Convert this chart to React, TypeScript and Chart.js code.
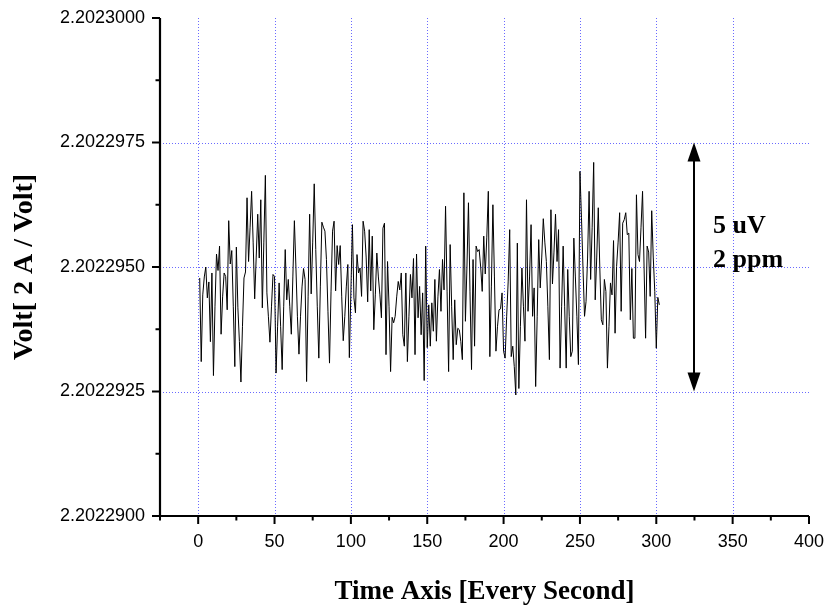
import React, { useEffect, useRef } from "react";
import { Chart, registerables } from "chart.js";

Chart.register(...registerables);

// ---------- DATA ----------
// Voltage readings, expressed as offsets above 2.2022900 V in units of 0.1 µV (1e-7 V)
const BASE_VOLT = 2.20229;
const OFFSET_UNIT = 1e-7;
const voltOffsets: number[] = [
  47.8, 31, 44.4, 48, 50, 43.8, 47, 35, 48.8, 28.2,
  42, 52.6, 49.3, 54.2, 36.5, 44, 48.8, 48.1, 41.4, 59.3,
  50.6, 53.3, 42, 30, 54, 41.8, 35, 26.9, 38, 47.8,
  49, 63.9, 51.1, 58, 65.2, 55, 43.6, 52, 60.6, 51.8,
  63.5, 41.8, 55, 68.4, 44.8, 40, 34.9, 42, 48.5, 48.1,
  28.7, 38, 46.8, 38, 29.4, 42, 53.5, 43.4, 47.5, 42,
  36.5, 48, 59.3, 50, 40, 32.5, 40, 46, 49.7, 47.5,
  27, 44, 60.6, 44.6, 55, 66.7, 53.5, 42, 31.7, 46,
  59, 58, 57.2, 51.5, 41, 30.7, 45, 57.2, 59.2, 45.2,
  54.3, 50.5, 54.3, 44, 35.2, 40, 46, 50.5, 31.8, 45,
  58.5, 43.8, 40.8, 52.5, 48.8, 49.8, 44.1, 59.2, 57.2, 52,
  43, 57.5, 45.2, 56.2, 37.4, 44.4, 52.8, 48, 44.4, 39.8,
  57.8, 58.8, 32.4, 51.1, 42, 29, 39.9, 38.8, 40.1, 44,
  47.1, 45.4, 48.8, 36.4, 34.1, 48.8, 31, 40, 48.5, 43.8,
  51.7, 32.4, 52.6, 39.8, 46.1, 36.4, 44.8, 27.2, 54.2, 33.8,
  42.4, 34.1, 42.8, 37.1, 47.5, 35.1, 44, 49.5, 41.1, 51.5,
  45.4, 62.2, 45, 29, 54.5, 42, 31.4, 43.4, 34.4, 37.7,
  37.4, 35, 31.4, 64.9, 39.1, 50, 62.9, 45, 29.4, 51.5,
  34.1, 54.2, 53.1, 53.5, 50, 45.1, 56.2, 48.6, 56, 65.2,
  32, 46, 62.5, 48, 33.1, 38, 41.4, 41.6, 44.8, 33.1,
  31.7, 40, 47, 57.5, 32, 34.1, 30, 24.3, 54.8, 25.6,
  38, 49.8, 42, 35.1, 63.5, 41.1, 48, 58.5, 40.1, 45.8,
  26, 40, 55.5, 45.8, 52, 59.7, 55, 51.1, 42, 31.4,
  61.5, 46.6, 53, 60.6, 51.1, 57.5, 29.7, 42, 54.2, 42,
  29.7, 49.5, 40, 32, 33.1, 55.8, 48, 40, 30.4, 69.2,
  60, 49.8, 40.1, 43.1, 51.8, 65.2, 47.5, 58, 71, 43.4,
  52, 61.9, 50, 39.4, 38.4, 47.5, 45.1, 29.7, 38, 46.8,
  44.4, 55.3, 36.7, 50.1, 55, 60.9, 41.1, 58.8, 59.5, 60.9,
  56.5, 56.8, 39.4, 49.7, 35.7, 35.7, 64.5, 52.5, 51.1, 58,
  65.2, 50, 35.7, 54.2, 53, 44.1, 61.3, 52, 45.1, 33.7,
  43.9, 42.4,
];
// one reading per second, starting at second 1
const seconds: number[] = voltOffsets.map((_, i) => i + 1);

// axes
const X_MIN = -25;
const X_MAX = 400;
const xMajorTicks = [0, 50, 100, 150, 200, 250, 300, 350, 400];
const xMinorTicks = [-25, 25, 75, 125, 175, 225, 275, 325, 375];
const xGridValues = [0, 50, 100, 150, 200, 250, 300, 350];

const Y_MIN = 2.20229;
const Y_MAX = 2.2023;
const yMajorTicks = [2.20229, 2.2022925, 2.202295, 2.2022975, 2.2023];
const yMinorTicks = [2.20229125, 2.20229375, 2.20229625, 2.20229875];
const yGridValues = [2.2022925, 2.202295, 2.2022975];

// annotation
const arrowSecond = 324.5;
const arrowFromVolt = 2.2022925;
const arrowToVolt = 2.2022975;
const annotationLines = ["5 uV", "2 ppm"];

const xTitle = "Time Axis [Every Second]";
const yTitle = "Volt[ 2 A / Volt]";

const SANS = "Arial, 'Liberation Sans', sans-serif";
const SERIF = "'Times New Roman', 'Liberation Serif', serif";
const GRID_COLOR = "#6a6aff";

const zeroPadding = (s: any) => {
  s.paddingTop = 0;
  s.paddingBottom = 0;
  s.paddingLeft = 0;
  s.paddingRight = 0;
};

const decorPlugin = {
  id: "decor",
  beforeDatasetsDraw(chart: any) {
    const { ctx, chartArea, scales } = chart;
    const { left, right, top, bottom } = chartArea;
    const x = scales.x;
    const y = scales.y;
    ctx.save();
    ctx.strokeStyle = GRID_COLOR;
    ctx.lineWidth = 1;
    ctx.setLineDash([1, 2]);
    for (const v of xGridValues) {
      const px = Math.round(x.getPixelForValue(v)) + 0.5;
      ctx.beginPath();
      ctx.moveTo(px, top);
      ctx.lineTo(px, bottom);
      ctx.stroke();
    }
    for (const v of yGridValues) {
      const py = Math.round(y.getPixelForValue(v)) + 0.5;
      ctx.beginPath();
      ctx.moveTo(left, py);
      ctx.lineTo(right, py);
      ctx.stroke();
    }
    ctx.restore();
  },
  afterDatasetsDraw(chart: any) {
    const { ctx, chartArea, scales } = chart;
    const { left, right, top, bottom } = chartArea;
    const x = scales.x;
    const y = scales.y;
    ctx.save();
    ctx.setLineDash([]);
    ctx.strokeStyle = "#000";
    ctx.fillStyle = "#000";
    // axis lines
    ctx.lineWidth = 2.2;
    ctx.beginPath();
    ctx.moveTo(left, top);
    ctx.lineTo(left, bottom);
    ctx.lineTo(right, bottom);
    ctx.stroke();
    // ticks
    ctx.lineWidth = 2;
    const seg = (x1: number, y1: number, x2: number, y2: number) => {
      ctx.beginPath();
      ctx.moveTo(x1, y1);
      ctx.lineTo(x2, y2);
      ctx.stroke();
    };
    for (const v of xMajorTicks) {
      const px = x.getPixelForValue(v);
      seg(px, bottom, px, bottom + 8);
    }
    for (const v of xMinorTicks) {
      const px = x.getPixelForValue(v);
      seg(px, bottom, px, bottom + 4.5);
    }
    for (const v of yMajorTicks) {
      const py = y.getPixelForValue(v);
      seg(left, py, left - 8, py);
    }
    for (const v of yMinorTicks) {
      const py = y.getPixelForValue(v);
      seg(left, py, left - 4.5, py);
    }
    // double-headed arrow
    const ax = Math.round(x.getPixelForValue(arrowSecond));
    const yTop = y.getPixelForValue(arrowToVolt);
    const yBot = y.getPixelForValue(arrowFromVolt);
    const headLen = 19;
    const headHalf = 6.5;
    ctx.lineWidth = 2;
    seg(ax, yTop + headLen - 2, ax, yBot - headLen + 2);
    ctx.beginPath();
    ctx.moveTo(ax, yTop);
    ctx.lineTo(ax - headHalf, yTop + headLen);
    ctx.lineTo(ax + headHalf, yTop + headLen);
    ctx.closePath();
    ctx.fill();
    ctx.beginPath();
    ctx.moveTo(ax, yBot);
    ctx.lineTo(ax - headHalf, yBot - headLen);
    ctx.lineTo(ax + headHalf, yBot - headLen);
    ctx.closePath();
    ctx.fill();
    // annotation text
    ctx.font = `bold 26px ${SERIF}`;
    ctx.textAlign = "left";
    ctx.textBaseline = "alphabetic";
    const midY = y.getPixelForValue((arrowFromVolt + arrowToVolt) / 2);
    ctx.fillText(annotationLines[0], ax + 19, midY - 34);
    ctx.fillText(annotationLines[1], ax + 19, midY);
    // axis titles
    ctx.textAlign = "center";
    ctx.font = `bold 27px ${SERIF}`;
    ctx.fillText(xTitle, (left + right) / 2, 599);
    ctx.save();
    ctx.font = `bold 28px ${SERIF}`;
    ctx.translate(32, (top + bottom) / 2);
    ctx.rotate(-Math.PI / 2);
    ctx.fillText(yTitle, 0, 0);
    ctx.restore();
    ctx.restore();
  },
};

export default function App() {
  const ref = useRef<HTMLCanvasElement>(null);
  useEffect(() => {
    if (!ref.current) return;
    const chart = new Chart(ref.current, {
      type: "line",
      data: {
        datasets: [
          {
            data: seconds.map((s, i) => ({ x: s, y: BASE_VOLT + voltOffsets[i] * OFFSET_UNIT })),
            borderColor: "#000",
            borderWidth: 1,
            pointRadius: 0,
            tension: 0,
            fill: false,
          },
        ],
      },
      options: {
        responsive: false,
        animation: false,
        events: [],
        layout: { padding: { top: 18, right: 18, left: 0, bottom: 0 } },
        plugins: {
          legend: { display: false },
          tooltip: { enabled: false },
          title: { display: false },
        },
        scales: {
          x: {
            type: "linear",
            min: X_MIN,
            max: X_MAX,
            grid: { display: false },
            border: { display: false },
            afterBuildTicks: (s: any) => {
              s.ticks = xMajorTicks.map((v) => ({ value: v }));
            },
            afterFit: (s: any) => {
              s.height = 90;
              zeroPadding(s);
            },
            ticks: {
              color: "#000",
              font: { family: SANS, size: 18 },
              padding: 7,
              maxRotation: 0,
              autoSkip: false,
              callback: (v: any) => String(v),
            },
          },
          y: {
            type: "linear",
            min: Y_MIN,
            max: Y_MAX,
            grid: { display: false },
            border: { display: false },
            afterBuildTicks: (s: any) => {
              s.ticks = yMajorTicks.map((v) => ({ value: v }));
            },
            afterFit: (s: any) => {
              s.width = 160;
              zeroPadding(s);
            },
            ticks: {
              color: "#000",
              font: { family: SANS, size: 18 },
              padding: 7,
              autoSkip: false,
              callback: (v: any) => Number(v).toFixed(7),
            },
          },
        },
      },
      plugins: [decorPlugin],
    } as any);
    return () => chart.destroy();
  }, []);
  return (
    <div style={{ position: "absolute", left: 0, top: 0, width: 827, height: 606, background: "#fff" }}>
      <canvas ref={ref} width={827} height={606} style={{ display: "block" }} />
    </div>
  );
}
